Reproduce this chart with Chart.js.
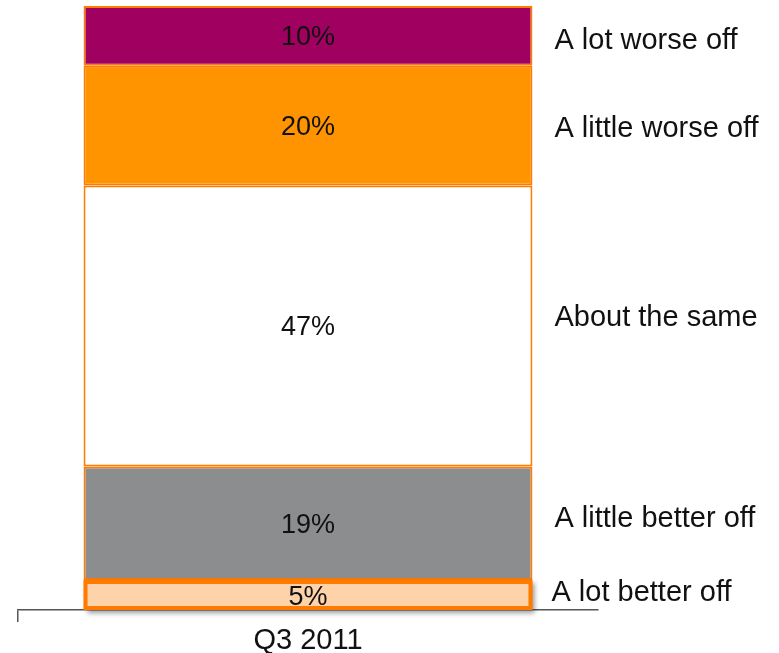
<!DOCTYPE html>
<html lang="en">
<head>
    <meta charset="UTF-8">
    <title>Q3 2011 financial outlook</title>
    <style>
        body { margin: 0; background: #fff; }
        #wrap { width: 779px; height: 653px; position: relative; }
    </style>
</head>
<body>
<div id="wrap"><canvas id="chart"></canvas></div>

<script src="https://cdn.jsdelivr.net/npm/chart.js@4/dist/chart.umd.min.js"></script>
<script>
  // data, bottom segment first
  const categories = ['Q3 2011'];
  const answers = ['A lot better off', 'A little better off', 'About the same', 'A little worse off', 'A lot worse off'];
  const shares = [5, 19, 47, 20, 10];
  const fills = ['#FFD3AA', '#8C8D8F', '#FFFFFF', '#FF9400', '#A00060'];

  const FONT = "Arial, 'Liberation Sans', sans-serif";
  // small pixel nudges for the side captions (y), bottom first
  const sideNudge = [-2, -4, -8, 3, 5];

  const labelsPlugin = {
    id: 'segLabels',
    beforeDatasetDraw(chart, args) {
      // soft drop shadow behind the bottom segment only
      if (args.index !== 0) return;
      const bar = chart.getDatasetMeta(0).data[0];
      const c = chart.ctx;
      c.save();
      c.shadowColor = 'rgba(0,0,0,0.4)';
      c.shadowBlur = 5;
      c.shadowOffsetX = 3;
      c.shadowOffsetY = 3;
      c.fillStyle = '#FF7A00';
      c.fillRect(bar.x - bar.width / 2, bar.y, bar.width, bar.base - bar.y);
      c.restore();
    },
    afterDatasetsDraw(chart) {
      const c = chart.ctx;
      c.save();
      chart.data.datasets.forEach((ds, i) => {
        const bar = chart.getDatasetMeta(i).data[0];
        const mid = (bar.y + bar.base) / 2;
        c.fillStyle = '#111';
        c.textAlign = 'center';
        c.textBaseline = 'middle';
        c.font = '27px ' + FONT;
        c.fillText(ds.data[0] + '%', bar.x, mid + 2);

        c.textAlign = 'left';
        c.font = '29px ' + FONT;
        const x = bar.x + bar.width / 2 + (i === 0 ? 19 : 22);
        c.fillText(ds.label, x, mid + sideNudge[i]);
      });
      c.restore();
    }
  };

  const datasets = answers.map((name, i) => ({
    label: name,
    data: [shares[i]],
    backgroundColor: fills[i],
    borderColor: '#FF7A00',
    borderWidth: i === 0 ? 4 : 2,
    borderSkipped: false,
    barPercentage: 0.774,
    categoryPercentage: 1
  }));

  new Chart(document.getElementById('chart'), {
    type: 'bar',
    data: { labels: categories, datasets: datasets },
    plugins: [labelsPlugin],
    options: {
      responsive: true,
      maintainAspectRatio: false,
      animation: false,
      layout: { padding: { left: 18, right: 181, top: 6, bottom: 0 } },
      plugins: { legend: { display: false }, tooltip: { enabled: false } },
      scales: {
        x: {
          stacked: true,
          offset: true,
          grid: {
            offset: true,
            drawOnChartArea: false,
            drawTicks: true,
            tickLength: 12,
            lineWidth: 1.5,
            color: ctx => ctx.index === 0 ? '#555' : 'rgba(0,0,0,0)'
          },
          border: { display: true, color: '#555', width: 1.5 },
          ticks: { color: '#111', padding: 2, font: { family: FONT, size: 29 } },
          afterFit(scale) { scale.height = 43; }
        },
        y: {
          stacked: true,
          display: false,
          min: 0,
          max: 101
        }
      }
    }
  });
</script>
</body>
</html>
